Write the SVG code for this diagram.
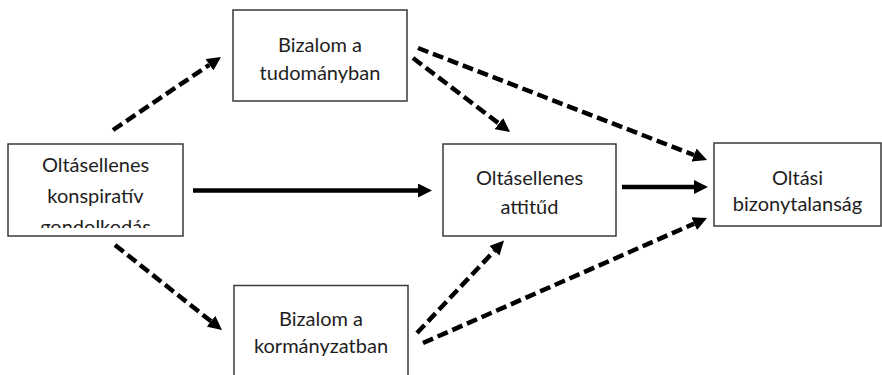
<svg xmlns="http://www.w3.org/2000/svg" width="882" height="375" viewBox="0 0 882 375">
<style>
.box{fill:#fff;stroke:#3a3a3a;stroke-width:1.5}
.t{font-family:Lato,"Liberation Sans",sans-serif;font-size:20px;fill:#1e1e1e;text-anchor:middle}
.c{fill:none;stroke:#000;stroke-width:4.5}
.d{stroke-dasharray:11 5}
</style>
<defs>
<marker id="ah" viewBox="0 -7 14 14" refX="0" refY="0" markerWidth="14" markerHeight="14" markerUnits="userSpaceOnUse" orient="auto">
<path d="M0,-7L14,0L0,7z" fill="#000"/>
</marker>
<clipPath id="clipL"><rect x="8" y="144" width="175" height="84"/></clipPath>
</defs>
<rect width="882" height="375" fill="#fff"/>
<g id="connectors">
<line class="c d" x1="113" y1="130" x2="209.4" y2="64.8" marker-end="url(#ah)"/>
<line class="c d" x1="115" y1="245" x2="211" y2="321.3" marker-end="url(#ah)"/>
<line class="c" x1="193" y1="190.5" x2="418" y2="190.5" marker-end="url(#ah)"/>
<line class="c d" x1="413" y1="58" x2="498.9" y2="123.5" marker-end="url(#ah)"/>
<line class="c d" x1="418" y1="48" x2="694" y2="155" marker-end="url(#ah)"/>
<line class="c" x1="622" y1="187" x2="694" y2="187" marker-end="url(#ah)"/>
<line class="c d" x1="417" y1="333" x2="494.4" y2="250.8" marker-end="url(#ah)"/>
<line class="c d" x1="423" y1="343" x2="694.2" y2="223.6" marker-end="url(#ah)"/>
</g>
<g id="node-konspirativ">
<rect class="box" x="8" y="144" width="175" height="92"/>
<g clip-path="url(#clipL)">
<text class="t" x="95.5" y="172">Oltásellenes</text>
<text class="t" x="95.5" y="203">konspiratív</text>
<text class="t" x="95.5" y="234">gondolkodás</text>
</g>
</g>
<g id="node-tudomany">
<rect class="box" x="233" y="10" width="174" height="91"/>
<text class="t" x="320" y="52">Bizalom a</text>
<text class="t" x="320" y="80">tudományban</text>
</g>
<g id="node-attitud">
<rect class="box" x="443" y="144" width="173" height="92"/>
<text class="t" x="529.5" y="185">Oltásellenes</text>
<text class="t" x="529.5" y="214">attitűd</text>
</g>
<g id="node-bizonytalansag">
<rect class="box" x="714" y="143" width="167" height="83"/>
<text class="t" x="797.5" y="185">Oltási</text>
<text class="t" x="797.5" y="211">bizonytalanság</text>
</g>
<g id="node-kormany">
<rect class="box" x="234" y="285.5" width="174" height="100"/>
<text class="t" x="321" y="326">Bizalom a</text>
<text class="t" x="321" y="353">kormányzatban</text>
</g>
</svg>
